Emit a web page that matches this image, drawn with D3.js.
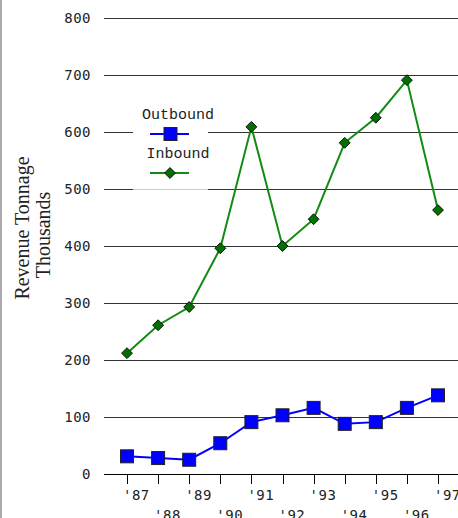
<!DOCTYPE html>
<html>
<head>
<meta charset="utf-8">
<script src="https://cdn.jsdelivr.net/npm/d3@7"></script>
<style>
  body { margin: 0; background: #fff; }
  svg { display: block; }
</style>
</head>
<body>
<svg></svg>
<script>
var years = ["'87", "'88", "'89", "'90", "'91", "'92", "'93", "'94", "'95", "'96", "'97"];
var outbound = [31, 28, 25, 54, 91, 103, 116, 88, 91, 116, 138];
var inbound = [212, 261, 293, 396, 609, 400, 447, 581, 625, 691, 463];
var yTicks = [0, 100, 200, 300, 400, 500, 600, 700, 800];

var width = 458;
var height = 518;

var svg = d3.select("svg")
  .attr("width", width)
  .attr("height", height)

// left border
svg.append("line")
  .attr("x1", 1).attr("x2", 1)
  .attr("y1", 0).attr("y2", height)
  .attr("stroke", "#aaa")
  .attr("stroke-width", 2)

var y = d3.scaleLinear()
  .domain([0, 800])
  .range([474, 18])

var x = d3.scalePoint()
  .domain(years)
  .range([127, 438])

// gridlines
svg.selectAll(".grid")
  .data(yTicks)
  .enter()
  .append("line")
    .classed("grid", true)
    .attr("x1", 104)
    .attr("x2", width)
    .attr("y1", d => Math.round(y(d)) + 0.5)
    .attr("y2", d => Math.round(y(d)) + 0.5)
    .attr("stroke", d => d == 0 ? "#000" : "#333")
    .attr("stroke-width", 1.2)

// y tick labels
svg.selectAll(".ylab")
  .data(yTicks)
  .enter()
  .append("text")
    .attr("x", 91)
    .attr("y", d => y(d) + 5)
    .attr("text-anchor", "end")
    .style("font-family", "DejaVu Sans Mono")
    .style("font-size", "14px")
    .style("letter-spacing", "0.5px")
    .attr("fill", "#222")
    .text(d => d)

// x ticks
svg.selectAll(".xtick")
  .data(years)
  .enter()
  .append("line")
    .attr("x1", d => Math.round(x(d)) + 0.5)
    .attr("x2", d => Math.round(x(d)) + 0.5)
    .attr("y1", 474)
    .attr("y2", 484)
    .attr("stroke", "#000")

svg.selectAll(".xlab")
  .data(years)
  .enter()
  .append("text")
    .attr("x", d => x(d) - 4)
    .attr("y", (d, i) => i % 2 == 0 ? 500 : 520)
    .style("font-family", "DejaVu Sans Mono")
    .style("font-size", "14px")
    .style("letter-spacing", "0.5px")
    .attr("fill", "#222")
    .text(d => d)

// axis title
var title = svg.append("text")
  .attr("transform", "translate(29, 228) rotate(-90)")
  .attr("text-anchor", "middle")
  .style("font-family", "Liberation Serif")
  .style("font-size", "20px")
  .attr("fill", "#222")
title.append("tspan").attr("x", 0).attr("dy", 0).text("Revenue Tonnage")
title.append("tspan").attr("x", -7).attr("dy", 21).text("Thousands")

var line = d3.line()
  .x((d, i) => x(years[i]))
  .y(d => y(d))

// inbound
svg.append("path")
  .datum(inbound)
  .attr("d", line)
  .attr("fill", "none")
  .attr("stroke", "#138a13")
  .attr("stroke-width", 2)

svg.selectAll(".inb")
  .data(inbound)
  .enter()
  .append("path")
    .attr("d", d3.symbol().type(d3.symbolDiamond2).size(75))
    .attr("transform", (d, i) => `translate(${x(years[i])}, ${y(d)})`)
    .attr("fill", "#007000")
    .attr("stroke", "#111")
    .attr("stroke-width", 1)

// outbound
svg.append("path")
  .datum(outbound)
  .attr("d", line)
  .attr("fill", "none")
  .attr("stroke", "#0000ff")
  .attr("stroke-width", 2)

svg.selectAll(".outb")
  .data(outbound)
  .enter()
  .append("rect")
    .attr("x", (d, i) => x(years[i]) - 6.5)
    .attr("y", d => y(d) - 6.5)
    .attr("width", 13)
    .attr("height", 13)
    .attr("fill", "#0000ff")
    .attr("stroke", "#222")
    .attr("stroke-width", 1)

// legend
var legend = svg.append("g")
legend.append("rect")
  .attr("x", 133).attr("y", 104)
  .attr("width", 75).attr("height", 85)
  .attr("fill", "#fff")
legend.append("line")
  .attr("x1", 133).attr("x2", 208)
  .attr("y1", 189.5).attr("y2", 189.5)
  .attr("stroke", "#ccc")

var legendItems = [
  {name: "Outbound", color: "#0000ff", ty: 119, ly: 134},
  {name: "Inbound", color: "#138a13", ty: 158, ly: 173}
]
legendItems.forEach(function(d, i){
  legend.append("text")
    .attr("x", 178).attr("y", d.ty)
    .attr("text-anchor", "middle")
    .style("font-family", "Liberation Mono")
    .style("font-size", "15px")
    .attr("fill", "#222")
    .text(d.name)
  legend.append("line")
    .attr("x1", 150).attr("x2", 189)
    .attr("y1", d.ly).attr("y2", d.ly)
    .attr("stroke", d.color)
    .attr("stroke-width", 2)
  if(i == 0){
    legend.append("rect")
      .attr("x", 164).attr("y", d.ly - 6.5)
      .attr("width", 13).attr("height", 13)
      .attr("fill", "#0000ff").attr("stroke", "#222")
  } else {
    legend.append("path")
      .attr("d", d3.symbol().type(d3.symbolDiamond2).size(75))
      .attr("transform", `translate(170, ${d.ly})`)
      .attr("fill", "#007000").attr("stroke", "#111")
  }
})
</script>
</body>
</html>
